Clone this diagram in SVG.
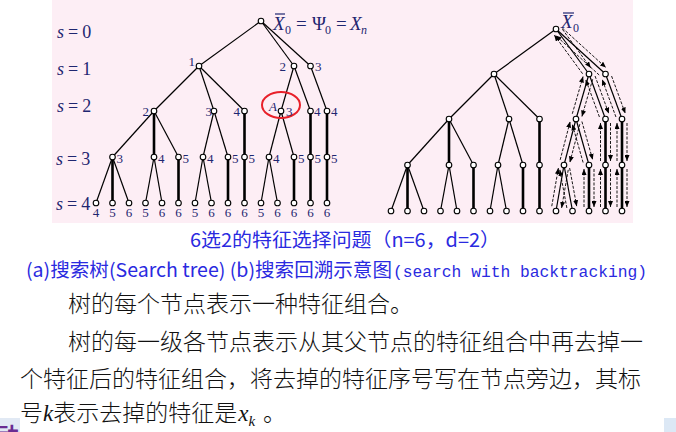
<svg xmlns="http://www.w3.org/2000/svg" xmlns:xlink="http://www.w3.org/1999/xlink" width="676" height="432" viewBox="0 0 676 432">
<style>
.e{stroke:#000;stroke-width:1.2;fill:none}
.k{stroke:#000;stroke-width:2.6}
.n{fill:#fff;stroke:#000;stroke-width:1.1}
.lb{font-family:"Liberation Serif",serif;font-size:13px;fill:#1f2670}
.sl{font-family:"Liberation Serif",serif;font-size:18px;fill:#1f2670}
.fm{font-family:"Liberation Serif",serif;font-size:19px;fill:#1f2670}
.sub{font-family:"Liberation Serif",serif;font-size:12px;fill:#1f2670}
.bt{stroke:#000;stroke-width:0.9;stroke-dasharray:3 1.5;fill:none;marker-end:url(#ah)}
.cap{font-family:"Noto Sans CJK SC","Noto Sans",sans-serif;font-size:19px;fill:#2a2ae0}
.mono{font-family:"Liberation Mono",monospace;font-size:16px}
.body{font-family:"Noto Sans CJK SC",sans-serif;font-size:23px;font-weight:300;fill:#111}
.it{font-family:"Liberation Serif",serif;font-style:italic}
</style>
<defs>
<marker id="ah" markerUnits="userSpaceOnUse" markerWidth="6" markerHeight="5" refX="6" refY="2.5" orient="auto"><path d="M0,0L6,2.5L0,5z" fill="#000"/></marker>
<clipPath id="clipBL"><rect x="0" y="418" width="20" height="14"/></clipPath>
</defs>
<rect x="0" y="0" width="676" height="432" fill="#fff"/>
<rect x="52" y="0" width="581" height="223" fill="#fdeef5"/>

<!-- level labels -->
<g id="levels" class="sl">
<text x="57" y="38"><tspan font-style="italic">s</tspan><tspan dx="4">=</tspan><tspan dx="4">0</tspan></text>
<text x="57" y="75"><tspan font-style="italic">s</tspan><tspan dx="4">=</tspan><tspan dx="4">1</tspan></text>
<text x="57" y="112"><tspan font-style="italic">s</tspan><tspan dx="4">=</tspan><tspan dx="4">2</tspan></text>
<text x="56" y="165"><tspan font-style="italic">s</tspan><tspan dx="4">=</tspan><tspan dx="4">3</tspan></text>
<text x="56" y="210"><tspan font-style="italic">s</tspan><tspan dx="4">=</tspan><tspan dx="4">4</tspan></text>
</g>

<!-- formula -->
<g id="formula">
<line x1="275" y1="14" x2="285" y2="14" stroke="#1f2670" stroke-width="1.2"/>
<text class="fm it" x="273" y="30">X</text>
<text class="sub" x="285" y="34">0</text>
<text class="fm" x="296" y="30">=</text>
<text class="fm" x="312" y="30">Ψ</text>
<text class="sub" x="325" y="34">0</text>
<text class="fm" x="336" y="30">=</text>
<text class="fm it" x="350" y="30">X</text>
<text class="sub it" x="361" y="34">n</text>
</g>

<!-- connectors -->
<g id="connectors">
<g id="edgesA">
<line class="e" x1="261" y1="21" x2="199" y2="66"/>
<line class="e" x1="261" y1="21" x2="294" y2="66"/>
<line class="e" x1="261" y1="21" x2="310.5" y2="66"/>
<line class="e" x1="199" y1="66" x2="154" y2="111"/>
<line class="e" x1="199" y1="66" x2="214" y2="111"/>
<line class="e" x1="199" y1="66" x2="244.5" y2="111"/>
<line class="e" x1="294" y1="66" x2="281" y2="111"/>
<line class="e" x1="294" y1="66" x2="310.5" y2="111"/>
<line class="e" x1="310.5" y1="66" x2="327" y2="111"/>
<line class="e" x1="154" y1="111" x2="112.5" y2="157"/>
<line class="k" x1="154" y1="111" x2="154" y2="157"/>
<line class="e" x1="154" y1="111" x2="178.5" y2="157"/>
<line class="e" x1="214" y1="111" x2="203" y2="157"/>
<line class="e" x1="214" y1="111" x2="228" y2="157"/>
<line class="k" x1="244.5" y1="111" x2="244.5" y2="157"/>
<line class="e" x1="281" y1="111" x2="269" y2="157"/>
<line class="e" x1="281" y1="111" x2="294" y2="157"/>
<line class="k" x1="310.5" y1="111" x2="310.5" y2="157"/>
<line class="k" x1="327" y1="111" x2="327" y2="157"/>
<line class="e" x1="112.5" y1="157" x2="96" y2="203"/>
<line class="k" x1="112.5" y1="157" x2="112.5" y2="203"/>
<line class="e" x1="112.5" y1="157" x2="129" y2="203"/>
<line class="e" x1="154" y1="157" x2="145.5" y2="203"/>
<line class="e" x1="154" y1="157" x2="162" y2="203"/>
<line class="k" x1="178.5" y1="157" x2="178.5" y2="203"/>
<line class="e" x1="203" y1="157" x2="195" y2="203"/>
<line class="e" x1="203" y1="157" x2="211.5" y2="203"/>
<line class="k" x1="228" y1="157" x2="228" y2="203"/>
<line class="k" x1="244.5" y1="157" x2="244.5" y2="203"/>
<line class="e" x1="269" y1="157" x2="261" y2="203"/>
<line class="e" x1="269" y1="157" x2="277.5" y2="203"/>
<line class="k" x1="294" y1="157" x2="294" y2="203"/>
<line class="k" x1="310.5" y1="157" x2="310.5" y2="203"/>
<line class="k" x1="327" y1="157" x2="327" y2="203"/>
</g>
<use xlink:href="#edgesA" href="#edgesA" transform="translate(295,8)"/>
<g id="backtrack" transform="translate(295,8)">
<line class="bt" x1="267.32" y1="19.99" x2="310.90" y2="59.61"/>
<line class="bt" x1="304.18" y1="67.01" x2="260.60" y2="27.39"/>
<line class="bt" x1="316.57" y1="68.04" x2="330.32" y2="105.52"/>
<line class="bt" x1="320.93" y1="108.97" x2="307.18" y2="71.48"/>
<line class="bt" x1="332" y1="115" x2="332" y2="153"/>
<line class="bt" x1="322" y1="153" x2="322" y2="115"/>
<line class="bt" x1="332" y1="161" x2="332" y2="199"/>
<line class="bt" x1="322" y1="199" x2="322" y2="161"/>
<line class="bt" x1="267.40" y1="21.27" x2="295.67" y2="59.82"/>
<line class="bt" x1="287.60" y1="65.73" x2="259.33" y2="27.18"/>
<line class="bt" x1="300.07" y1="68.04" x2="313.82" y2="105.52"/>
<line class="bt" x1="304.43" y1="108.97" x2="290.68" y2="71.48"/>
<line class="bt" x1="315.5" y1="115" x2="315.5" y2="153"/>
<line class="bt" x1="305.5" y1="153" x2="305.5" y2="115"/>
<line class="bt" x1="315.5" y1="161" x2="315.5" y2="199"/>
<line class="bt" x1="305.5" y1="199" x2="305.5" y2="161"/>
<line class="bt" x1="297.69" y1="71.23" x2="286.91" y2="108.55"/>
<line class="bt" x1="277.31" y1="105.77" x2="288.09" y2="68.46"/>
<line class="bt" x1="286.90" y1="113.49" x2="297.72" y2="151.79"/>
<line class="bt" x1="288.10" y1="154.51" x2="277.28" y2="116.21"/>
<line class="bt" x1="299" y1="161" x2="299" y2="199"/>
<line class="bt" x1="289" y1="199" x2="289" y2="161"/>
<line class="bt" x1="284.83" y1="116.13" x2="274.85" y2="154.39"/>
<line class="bt" x1="265.17" y1="151.87" x2="275.15" y2="113.61"/>
<line class="bt" x1="274.64" y1="160.02" x2="281.69" y2="198.16"/>
<line class="bt" x1="271.86" y1="199.98" x2="264.81" y2="161.84"/>
<line class="bt" x1="273.24" y1="161.80" x2="266.61" y2="199.92"/>
<line class="bt" x1="256.76" y1="198.20" x2="263.39" y2="160.08"/>
</g>
</g>

<!-- left tree nodes -->
<g id="treeA">
<g id="A-r"><circle class="n" cx="261" cy="21" r="2.8"/></g>
<g id="A-a1"><circle class="n" cx="199" cy="66" r="2.8"/><text class="lb" x="195" y="66" text-anchor="end">1</text></g>
<g id="A-a2"><circle class="n" cx="294" cy="66" r="2.8"/><text class="lb" x="286" y="71" text-anchor="end">2</text></g>
<g id="A-a3"><circle class="n" cx="310.5" cy="66" r="2.8"/><text class="lb" x="315" y="71">3</text></g>
<g id="A-b1"><circle class="n" cx="154" cy="111" r="2.8"/><text class="lb" x="149" y="116" text-anchor="end">2</text></g>
<g id="A-b2"><circle class="n" cx="214" cy="111" r="2.8"/><text class="lb" x="212" y="116" text-anchor="end">3</text></g>
<g id="A-b3"><circle class="n" cx="244.5" cy="111" r="2.8"/><text class="lb" x="240" y="116" text-anchor="end">4</text></g>
<g id="A-b4"><ellipse cx="281" cy="105" rx="19" ry="13" fill="none" stroke="#e8202a" stroke-width="2"/><circle class="n" cx="281" cy="111" r="2.8"/><text class="lb it" x="277" y="111" text-anchor="end">A</text><text class="lb" x="286" y="116">3</text></g>
<g id="A-b5"><circle class="n" cx="310.5" cy="111" r="2.8"/><text class="lb" x="314" y="116">4</text></g>
<g id="A-b6"><circle class="n" cx="327" cy="111" r="2.8"/><text class="lb" x="331" y="116">4</text></g>
<g id="A-c1"><circle class="n" cx="112.5" cy="157" r="2.8"/><text class="lb" x="116.5" y="163">3</text></g>
<g id="A-c2"><circle class="n" cx="154" cy="157" r="2.8"/><text class="lb" x="158" y="163">4</text></g>
<g id="A-c3"><circle class="n" cx="178.5" cy="157" r="2.8"/><text class="lb" x="182.5" y="163">5</text></g>
<g id="A-c4"><circle class="n" cx="203" cy="157" r="2.8"/><text class="lb" x="207" y="163">4</text></g>
<g id="A-c5"><circle class="n" cx="228" cy="157" r="2.8"/><text class="lb" x="232" y="163">5</text></g>
<g id="A-c6"><circle class="n" cx="244.5" cy="157" r="2.8"/><text class="lb" x="248.5" y="163">5</text></g>
<g id="A-c7"><circle class="n" cx="269" cy="157" r="2.8"/><text class="lb" x="273" y="163">4</text></g>
<g id="A-c8"><circle class="n" cx="294" cy="157" r="2.8"/><text class="lb" x="298" y="163">5</text></g>
<g id="A-c9"><circle class="n" cx="310.5" cy="157" r="2.8"/><text class="lb" x="314.5" y="163">5</text></g>
<g id="A-c10"><circle class="n" cx="327" cy="157" r="2.8"/><text class="lb" x="331" y="163">5</text></g>
<g id="A-d1"><circle class="n" cx="96" cy="203" r="2.8"/><text class="lb" x="96" y="217" text-anchor="middle">4</text></g>
<g id="A-d2"><circle class="n" cx="112.5" cy="203" r="2.8"/><text class="lb" x="112.5" y="217" text-anchor="middle">5</text></g>
<g id="A-d3"><circle class="n" cx="129" cy="203" r="2.8"/><text class="lb" x="129" y="217" text-anchor="middle">6</text></g>
<g id="A-d4"><circle class="n" cx="145.5" cy="203" r="2.8"/><text class="lb" x="145.5" y="217" text-anchor="middle">5</text></g>
<g id="A-d5"><circle class="n" cx="162" cy="203" r="2.8"/><text class="lb" x="162" y="217" text-anchor="middle">6</text></g>
<g id="A-d6"><circle class="n" cx="178.5" cy="203" r="2.8"/><text class="lb" x="178.5" y="217" text-anchor="middle">6</text></g>
<g id="A-d7"><circle class="n" cx="195" cy="203" r="2.8"/><text class="lb" x="195" y="217" text-anchor="middle">5</text></g>
<g id="A-d8"><circle class="n" cx="211.5" cy="203" r="2.8"/><text class="lb" x="211.5" y="217" text-anchor="middle">6</text></g>
<g id="A-d9"><circle class="n" cx="228" cy="203" r="2.8"/><text class="lb" x="228" y="217" text-anchor="middle">6</text></g>
<g id="A-d10"><circle class="n" cx="244.5" cy="203" r="2.8"/><text class="lb" x="244.5" y="217" text-anchor="middle">6</text></g>
<g id="A-d11"><circle class="n" cx="261" cy="203" r="2.8"/><text class="lb" x="261" y="217" text-anchor="middle">5</text></g>
<g id="A-d12"><circle class="n" cx="277.5" cy="203" r="2.8"/><text class="lb" x="277.5" y="217" text-anchor="middle">6</text></g>
<g id="A-d13"><circle class="n" cx="294" cy="203" r="2.8"/><text class="lb" x="294" y="217" text-anchor="middle">6</text></g>
<g id="A-d14"><circle class="n" cx="310.5" cy="203" r="2.8"/><text class="lb" x="310.5" y="217" text-anchor="middle">6</text></g>
<g id="A-d15"><circle class="n" cx="327" cy="203" r="2.8"/><text class="lb" x="327" y="217" text-anchor="middle">6</text></g>
</g>

<!-- right tree nodes -->
<g id="treeB" transform="translate(295,8)">
<g id="B-r"><circle class="n" cx="261" cy="21" r="2.8"/></g>
<g id="B-a1"><circle class="n" cx="199" cy="66" r="2.8"/></g>
<g id="B-a2"><circle class="n" cx="294" cy="66" r="2.8"/></g>
<g id="B-a3"><circle class="n" cx="310.5" cy="66" r="2.8"/></g>
<g id="B-b1"><circle class="n" cx="154" cy="111" r="2.8"/></g>
<g id="B-b2"><circle class="n" cx="214" cy="111" r="2.8"/></g>
<g id="B-b3"><circle class="n" cx="244.5" cy="111" r="2.8"/></g>
<g id="B-b4"><circle class="n" cx="281" cy="111" r="2.8"/></g>
<g id="B-b5"><circle class="n" cx="310.5" cy="111" r="2.8"/></g>
<g id="B-b6"><circle class="n" cx="327" cy="111" r="2.8"/></g>
<g id="B-c1"><circle class="n" cx="112.5" cy="157" r="2.8"/></g>
<g id="B-c2"><circle class="n" cx="154" cy="157" r="2.8"/></g>
<g id="B-c3"><circle class="n" cx="178.5" cy="157" r="2.8"/></g>
<g id="B-c4"><circle class="n" cx="203" cy="157" r="2.8"/></g>
<g id="B-c5"><circle class="n" cx="228" cy="157" r="2.8"/></g>
<g id="B-c6"><circle class="n" cx="244.5" cy="157" r="2.8"/></g>
<g id="B-c7"><circle class="n" cx="269" cy="157" r="2.8"/></g>
<g id="B-c8"><circle class="n" cx="294" cy="157" r="2.8"/></g>
<g id="B-c9"><circle class="n" cx="310.5" cy="157" r="2.8"/></g>
<g id="B-c10"><circle class="n" cx="327" cy="157" r="2.8"/></g>
<g id="B-d1"><circle class="n" cx="96" cy="203" r="2.8"/></g>
<g id="B-d2"><circle class="n" cx="112.5" cy="203" r="2.8"/></g>
<g id="B-d3"><circle class="n" cx="129" cy="203" r="2.8"/></g>
<g id="B-d4"><circle class="n" cx="145.5" cy="203" r="2.8"/></g>
<g id="B-d5"><circle class="n" cx="162" cy="203" r="2.8"/></g>
<g id="B-d6"><circle class="n" cx="178.5" cy="203" r="2.8"/></g>
<g id="B-d7"><circle class="n" cx="195" cy="203" r="2.8"/></g>
<g id="B-d8"><circle class="n" cx="211.5" cy="203" r="2.8"/></g>
<g id="B-d9"><circle class="n" cx="228" cy="203" r="2.8"/></g>
<g id="B-d10"><circle class="n" cx="244.5" cy="203" r="2.8"/></g>
<g id="B-d11"><circle class="n" cx="261" cy="203" r="2.8"/></g>
<g id="B-d12"><circle class="n" cx="277.5" cy="203" r="2.8"/></g>
<g id="B-d13"><circle class="n" cx="294" cy="203" r="2.8"/></g>
<g id="B-d14"><circle class="n" cx="310.5" cy="203" r="2.8"/></g>
<g id="B-d15"><circle class="n" cx="327" cy="203" r="2.8"/></g>
</g>
<g id="rootlabelB">
<line x1="563" y1="13" x2="574" y2="13" stroke="#1f2670" stroke-width="1.2"/>
<text class="fm it" x="561" y="28">X</text>
<text class="sub" x="573" y="32">0</text>
</g>

<!-- captions -->
<g id="captions">
<text class="cap" x="190" y="247" textLength="310" lengthAdjust="spacingAndGlyphs">6选2的特征选择问题（n=6，d=2）</text>
<text class="cap" x="26" y="277" textLength="366" lengthAdjust="spacingAndGlyphs">(a)搜索树(Search tree) (b)搜索回溯示意图</text>
<text class="cap mono" x="393" y="277" textLength="254" lengthAdjust="spacingAndGlyphs">(search with backtracking)</text>
</g>

<!-- body text -->
<g id="bodytext" class="body">
<text x="68" y="312">树的每个节点表示一种特征组合。</text>
<text x="68" y="350">树的每一级各节点表示从其父节点的特征组合中再去掉一</text>
<text x="20" y="387">个特征后的特征组合，将去掉的特征序号写在节点旁边，其标</text>
<text x="20" y="421">号<tspan class="it">k</tspan>表示去掉的特征是<tspan class="it" dx="1">x</tspan><tspan class="it" dy="5" font-size="15">k</tspan><tspan dx="8" dy="-5">。</tspan></text>
</g>

<!-- slide remnants -->
<g id="remnants">
<rect x="0" y="418" width="20" height="14" fill="#e1e9f4"/>
<text x="-3" y="443" clip-path="url(#clipBL)" font-family="Noto Sans CJK SC,sans-serif" font-size="22" font-weight="bold" fill="#6a2c91">动</text>
<rect x="664" y="418" width="12" height="14" fill="#dce8f5"/>
</g>
</svg>
